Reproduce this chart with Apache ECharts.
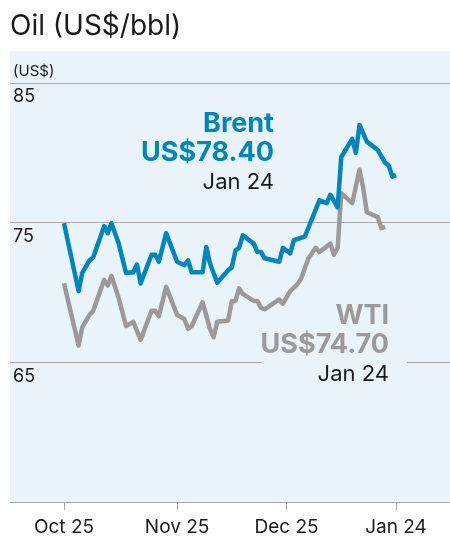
<!DOCTYPE html>
<html><head><meta charset="utf-8">
<script src="https://cdn.jsdelivr.net/npm/echarts@6/dist/echarts.min.js"></script>
<style>html,body{margin:0;padding:0;background:#fff}#c{width:450px;height:537px}</style>
</head><body><div id="c"></div>
<script>
const brentDates = ['2024-10-25','2024-10-29','2024-10-30','2024-11-01','2024-11-02','2024-11-05','2024-11-06','2024-11-07','2024-11-09','2024-11-11','2024-11-13','2024-11-14','2024-11-15','2024-11-18','2024-11-19','2024-11-20','2024-11-22','2024-11-25','2024-11-27','2024-11-28','2024-11-29','2024-12-02','2024-12-03','2024-12-04','2024-12-06','2024-12-09','2024-12-10','2024-12-11','2024-12-12','2024-12-13','2024-12-16','2024-12-17','2024-12-18','2024-12-19','2024-12-23','2024-12-24','2024-12-26','2024-12-27','2024-12-30','2025-01-03','2025-01-05','2025-01-06','2025-01-08','2025-01-09','2025-01-12','2025-01-13','2025-01-14','2025-01-16','2025-01-19','2025-01-21','2025-01-22','2025-01-23','2025-01-24'];
const brentValues = [74.96,70.1,71.4,72.3,72.5,74.75,74.25,74.96,73.5,71.4,71.45,72.0,70.65,72.7,72.7,72.2,74.25,72.2,71.95,72.3,71.45,71.45,73.25,72.1,70.7,71.6,71.8,73.0,73.2,74.1,73.5,72.9,72.9,72.45,72.2,73.2,72.8,73.75,74.0,76.6,76.4,77.0,76.1,79.7,81.0,80.0,82.0,80.8,80.2,79.3,79.1,78.3,78.4];
const wtiDates = ['2024-10-25','2024-10-29','2024-10-30','2024-11-01','2024-11-02','2024-11-05','2024-11-06','2024-11-07','2024-11-09','2024-11-11','2024-11-13','2024-11-15','2024-11-18','2024-11-19','2024-11-20','2024-11-22','2024-11-25','2024-11-27','2024-11-28','2024-11-29','2024-12-02','2024-12-04','2024-12-05','2024-12-06','2024-12-09','2024-12-10','2024-12-11','2024-12-12','2024-12-13','2024-12-16','2024-12-17','2024-12-18','2024-12-19','2024-12-23','2024-12-24','2024-12-26','2024-12-28','2024-12-29','2024-12-31','2025-01-02','2025-01-03','2025-01-06','2025-01-07','2025-01-08','2025-01-09','2025-01-12','2025-01-14','2025-01-15','2025-01-16','2025-01-19','2025-01-20','2025-01-21'];
const wtiValues = [70.66,66.2,67.5,68.4,68.7,70.9,70.5,71.2,69.6,67.6,67.9,66.6,68.7,68.7,68.3,70.4,68.4,68.1,67.4,67.6,69.3,67.4,66.8,67.9,68.0,69.4,69.4,70.3,69.9,69.4,69.4,68.9,68.8,69.5,69.2,70.1,70.6,71.0,72.45,73.2,72.9,73.5,72.7,73.2,77.1,76.4,78.8,77.5,75.75,75.4,74.6,74.7];
const tickDates = ['2024-10-25','2024-11-25','2024-12-25','2025-01-24'];
const tickLabels = ['Oct 25','Nov 25','Dec 25','Jan 24'];
const yTicks = [55,65,75,85];

const FONT = 'Inter';
const DAY = 86400000;
const toUTC = s => { const p = s.split('-').map(Number); return Date.UTC(p[0], p[1]-1, p[2]); };
const origin = toUTC(tickDates[0]);
const dayNum = s => Math.round((toUTC(s) - origin) / DAY);
const tickDays = tickDates.map(dayNum);
const xMin = tickDays[0] - 14.8;
const xMax = tickDays[3] + 14.8;

const chart = echarts.init(document.getElementById('c'), null, {renderer:'canvas'});
chart.setOption({
  animation:false,
  backgroundColor:'#ffffff',
  grid:{left:10,right:0,top:83,bottom:34,show:true,backgroundColor:'#eaf2fa',borderWidth:0},
  xAxis:{
    type:'value', min:xMin, max:xMax,
    axisLine:{show:true,onZero:false,lineStyle:{color:'#a6a6a6',width:1}},
    axisTick:{show:true,length:8,lineStyle:{color:'#a6a6a6'},customValues:tickDays},
    axisLabel:{show:true,customValues:tickDays,margin:16,color:'#1a1a1a',fontFamily:FONT,fontSize:19,
      formatter:v=>{const i=tickDays.indexOf(Math.round(v));return i>=0?tickLabels[i]:'';}},
    splitLine:{show:false}
  },
  yAxis:{
    type:'value', min:yTicks[0], max:yTicks[3], interval:10,
    axisLine:{show:false}, axisTick:{show:false},
    axisLabel:{inside:true,align:'left',verticalAlign:'top',margin:3,padding:[5,0,0,0],color:'#1a1a1a',fontFamily:FONT,fontSize:18,
      formatter:v=>v===yTicks[0]?'':String(v)},
    splitLine:{show:true,lineStyle:{color:'#aaaaaa',width:1}}
  },
  series:[
    {type:'line',name:'WTI',data:wtiDates.map((d,i)=>[dayNum(d),wtiValues[i]]),showSymbol:false,
      lineStyle:{color:'#9a9a9a',width:4.5,join:'round'},z:2},
    {type:'line',name:'Brent',data:brentDates.map((d,i)=>[dayNum(d),brentValues[i]]),showSymbol:false,
      lineStyle:{color:'#0086bb',width:4.5,join:'round'},z:3}
  ],
  graphic:[
    {type:'rect',shape:{x:10,y:51,width:440,height:32},style:{fill:'#eaf2fa'},z:-1,silent:true},
    {type:'text',x:10,y:27,style:{text:'Oil (US$/bbl)',font:'400 28px '+FONT,fill:'#1a1a1a',textVerticalAlign:'middle'}},
    {type:'text',x:13,y:71,style:{text:'(US$)',font:'400 15px '+FONT,fill:'#1a1a1a',textVerticalAlign:'middle'}},
    {type:'text',x:274,y:124,style:{text:'Brent',font:'700 27px '+FONT,fill:'#0086bb',textAlign:'right',textVerticalAlign:'middle'}},
    {type:'text',x:274,y:153,style:{text:'US$78.40',font:'700 27px '+FONT,fill:'#0086bb',textAlign:'right',textVerticalAlign:'middle'}},
    {type:'text',x:274,y:182,style:{text:'Jan 24',font:'400 22px '+FONT,fill:'#1a1a1a',textAlign:'right',textVerticalAlign:'middle'}},
    {type:'rect',shape:{x:262,y:356,width:145,height:12},style:{fill:'#eaf2fa'},z:10,silent:true},
    {type:'text',x:389,y:316,style:{text:'WTI',font:'700 27px '+FONT,fill:'#9a9a9a',textAlign:'right',textVerticalAlign:'middle'},z:11},
    {type:'text',x:389,y:345,style:{text:'US$74.70',font:'700 27px '+FONT,fill:'#9a9a9a',textAlign:'right',textVerticalAlign:'middle'},z:11},
    {type:'text',x:389,y:374,style:{text:'Jan 24',font:'400 22px '+FONT,fill:'#1a1a1a',textAlign:'right',textVerticalAlign:'middle'},z:11}
  ]
});
</script>
</body></html>
